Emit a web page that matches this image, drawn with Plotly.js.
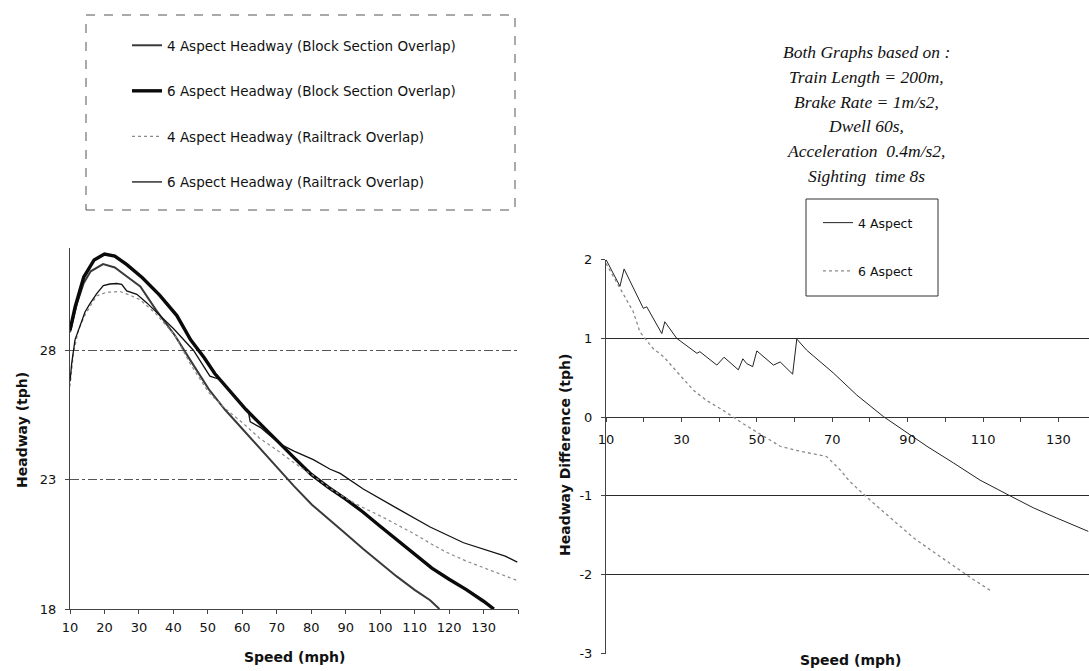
<!DOCTYPE html>
<html>
<head>
<meta charset="utf-8">
<script src="https://cdn.plot.ly/plotly-3.0.1.min.js"></script>
<style>html,body{margin:0;padding:0;background:#fff;}#chart{width:1089px;height:671px;}</style>
</head>
<body>
<div id="chart"></div>
<script>
// ---------- Left chart: Headway (tph) vs Speed (mph) ----------
const aspect6BlockX = [10, 11.5, 14, 17, 20, 23, 26.5, 31, 36, 41, 45, 49, 52, 56, 61, 66, 71, 75, 80, 85, 90, 95, 100, 105, 110, 115, 120, 125, 130, 133];
const aspect6BlockY = [28.78, 29.68, 30.83, 31.49, 31.72, 31.64, 31.31, 30.8, 30.13, 29.34, 28.4, 27.7, 27.1, 26.5, 25.72, 25.05, 24.37, 23.85, 23.2, 22.7, 22.25, 21.75, 21.2, 20.65, 20.1, 19.58, 19.15, 18.75, 18.3, 18.0];

const aspect4BlockX = [10, 12, 14, 16, 19.6, 23, 26.5, 30.4, 35, 40.4, 45, 50.3, 55, 60.3, 65, 70.3, 75, 80.2, 85.5, 90.1, 95.1, 100, 104.8, 110, 114.5, 117.2];
const aspect4BlockY = [28.7, 29.8, 30.6, 31.05, 31.33, 31.2, 30.85, 30.47, 29.55, 28.58, 27.6, 26.49, 25.7, 24.92, 24.2, 23.45, 22.75, 22.03, 21.44, 20.9, 20.32, 19.79, 19.26, 18.74, 18.34, 18.0];

const aspect4RailX = [10, 11, 12.5, 14.5, 17.7, 20.6, 24.5, 27, 30.4, 35, 40.4, 45, 50.3, 55, 60.3, 65, 70.3, 75, 80.2, 85, 90.1, 95, 100, 105, 109.7, 115, 119.3, 125, 129, 134, 139.8];
const aspect4RailY = [26.6, 27.9, 28.8, 29.4, 30.1, 30.24, 30.27, 30.15, 29.95, 29.4, 28.58, 27.45, 26.36, 25.75, 25.17, 24.6, 24.12, 23.65, 23.19, 22.7, 22.27, 21.92, 21.6, 21.25, 20.92, 20.5, 20.19, 19.85, 19.65, 19.4, 19.1];

const aspect6RailX = [10, 10.5, 11.45, 12.9, 14.35, 15.8, 17.75, 19.67, 21.6, 23.55, 25, 26.46, 29.4, 32.3, 36.1, 40, 45.8, 50.6, 53.5, 57, 60.3, 61.8, 62.3, 65.2, 71, 75, 80.6, 85.5, 88.4, 95.1, 104.8, 114.5, 124.2, 130, 136.3, 139.8];
const aspect6RailY = [26.79, 27.5, 28.4, 28.9, 29.48, 29.8, 30.19, 30.5, 30.56, 30.58, 30.55, 30.29, 30.16, 29.83, 29.36, 28.84, 28.0, 27.0, 26.87, 26.35, 25.85, 25.6, 25.23, 25.02, 24.37, 24.1, 23.77, 23.4, 23.24, 22.64, 21.9, 21.17, 20.56, 20.3, 20.04, 19.81];

const leftXTickVals = [10, 20, 30, 40, 50, 60, 70, 80, 90, 100, 110, 120, 130, 140];
const leftXTickText = ['10', '20', '30', '40', '50', '60', '70', '80', '90', '100', '110', '120', '130', ''];
const leftYTickVals = [18, 23, 28];

// ---------- Right chart: Headway Difference (tph) vs Speed (mph) ----------
const diff4X = [10, 13.7, 14.8, 17.2, 19.9, 20.8, 24.8, 25.6, 28.75, 34.1, 34.9, 39.4, 41.3, 45.1, 46.3, 47.3, 48.9, 50, 54.4, 56.2, 59.5, 60.6, 63.2, 70.3, 76.5, 83.6, 89.8, 95.1, 102.1, 109.2, 117.2, 123.3, 129.5, 137.9];
const diff4Y = [2.0, 1.66, 1.88, 1.64, 1.38, 1.40, 1.06, 1.21, 1.0, 0.81, 0.83, 0.66, 0.76, 0.60, 0.74, 0.68, 0.64, 0.84, 0.66, 0.70, 0.545, 0.99, 0.85, 0.56, 0.28, 0.006, -0.20, -0.37, -0.58, -0.80, -1.0, -1.15, -1.28, -1.45];

const diff6X = [10, 13.5, 17.2, 19, 22.5, 25.2, 33.2, 36.7, 41.1, 46.4, 56.2, 60.2, 68.5, 72.1, 74.7, 80.9, 91.5, 95.9, 102.1, 107.4, 112.3];
const diff6Y = [1.95, 1.65, 1.34, 1.08, 0.87, 0.77, 0.34, 0.21, 0.085, -0.085, -0.37, -0.42, -0.50, -0.67, -0.82, -1.09, -1.53, -1.68, -1.89, -2.06, -2.21];

const rightXTickVals = [10, 20, 30, 40, 50, 60, 70, 80, 90, 100, 110, 120, 130];
const rightXTickText = ['10', '', '30', '', '50', '', '70', '', '90', '', '110', '', '130'];
const rightYTickVals = [-3, -2, -1, 0, 1, 2];
const rightYTickText = ['-3', '-2', '-1', '0', '1', '2'];
const rightGridVals = [-2, -1, 1];

const noteLines = ['Both Graphs based on :', 'Train Length = 200m,', 'Brake Rate = 1m/s2,', 'Dwell 60s,', 'Acceleration  0.4m/s2,', 'Sighting  time 8s'];

// ---------- layout constants ----------
const W = 1089, H = 671;
const px = v => v / W;
const py = v => 1 - v / H;

const sans = 'DejaVu Sans, Arial, sans-serif';
const tickFont = {family: sans, size: 13, color: '#111'};
const legFont = {family: sans, size: 13.5, color: '#111'};

const traces = [
  {x: aspect4BlockX, y: aspect4BlockY, name: '4 Aspect Headway (Block Section Overlap)', mode: 'lines',
   line: {color: '#3a3a3a', width: 2}, xaxis: 'x', yaxis: 'y', legend: 'legend', legendgroup: 'a'},
  {x: aspect6BlockX, y: aspect6BlockY, name: '6 Aspect Headway (Block Section Overlap)', mode: 'lines',
   line: {color: '#0a0a0a', width: 3.4}, xaxis: 'x', yaxis: 'y', legend: 'legend', legendgroup: 'b'},
  {x: aspect4RailX, y: aspect4RailY, name: '4 Aspect Headway (Railtrack Overlap)', mode: 'lines',
   line: {color: '#8a8a8a', width: 1.2, dash: 'dot'}, xaxis: 'x', yaxis: 'y', legend: 'legend', legendgroup: 'c'},
  {x: aspect6RailX, y: aspect6RailY, name: '6 Aspect Headway (Railtrack Overlap)', mode: 'lines',
   line: {color: '#111', width: 1.3}, xaxis: 'x', yaxis: 'y', legend: 'legend', legendgroup: 'd'},
  {x: diff4X, y: diff4Y, name: '4 Aspect', mode: 'lines',
   line: {color: '#222', width: 1}, xaxis: 'x2', yaxis: 'y2', legend: 'legend2', legendgroup: 'e'},
  {x: diff6X, y: diff6Y, name: '6 Aspect', mode: 'lines',
   line: {color: '#8a8a8a', width: 1.3, dash: 'dot'}, xaxis: 'x2', yaxis: 'y2', legend: 'legend2', legendgroup: 'f'},
  // empty trace that registers the speed axis drawn along the zero line
  {x: [], y: [], mode: 'lines', xaxis: 'x3', yaxis: 'y2', showlegend: false, hoverinfo: 'skip'}
];

const rDomY = [py(653.5), py(259.5)];
const rRange = [-3, 2];
const zeroPos = rDomY[0] + (0 - rRange[0]) / (rRange[1] - rRange[0]) * (rDomY[1] - rDomY[0]);

const annotations = noteLines.map((t, i) => ({
  text: t, xref: 'paper', yref: 'paper', x: px(866), y: py(52 + i * 24.8),
  xanchor: 'center', yanchor: 'middle', showarrow: false,
  font: {family: 'Liberation Serif, Times New Roman, serif', size: 17.5, style: 'italic', color: '#111'}
}));
const titleFont = {family: sans, size: 14, weight: 'bold', color: '#111'};
annotations.push(
  {text: 'Headway (tph)', xref: 'paper', yref: 'paper', x: px(22), y: py(430), textangle: -90,
   showarrow: false, xanchor: 'center', yanchor: 'middle', font: titleFont},
  {text: 'Speed (mph)', xref: 'paper', yref: 'paper', x: px(294), y: py(657),
   showarrow: false, xanchor: 'center', yanchor: 'middle', font: titleFont},
  {text: 'Headway Difference (tph)', xref: 'paper', yref: 'paper', x: px(565), y: py(455), textangle: -90,
   showarrow: false, xanchor: 'center', yanchor: 'middle', font: titleFont},
  {text: 'Speed (mph)', xref: 'paper', yref: 'paper', x: px(850), y: py(660),
   showarrow: false, xanchor: 'center', yanchor: 'middle', font: titleFont}
);

const layout = {
  width: W, height: H,
  margin: {l: 0, r: 0, t: 0, b: 0},
  paper_bgcolor: '#fff', plot_bgcolor: 'rgba(0,0,0,0)',
  showlegend: true,
  xaxis: {domain: [px(70), px(518)], range: [10, 140], anchor: 'y',
    tickmode: 'array', tickvals: leftXTickVals, ticktext: leftXTickText,
    ticks: 'outside', ticklen: 4, tickcolor: '#444', ticklabelstandoff: 2,
    showline: true, linecolor: '#444', linewidth: 1, showgrid: false, zeroline: false,
    tickfont: tickFont},
  yaxis: {domain: [py(609), py(248.3)], range: [18, 31.94], anchor: 'x',
    tickmode: 'array', tickvals: leftYTickVals,
    ticks: 'outside', ticklen: 4, tickcolor: '#444', ticklabelstandoff: 6,
    showline: true, linecolor: '#444', linewidth: 1,
    showgrid: true, gridcolor: '#555', gridwidth: 1, griddash: 'dashdot', zeroline: false,
    tickfont: tickFont},
  xaxis2: {domain: [px(606), 1], range: [10, 138.1], anchor: 'y2',
    showticklabels: false, ticks: '', showline: false, showgrid: false, zeroline: false},
  yaxis2: {domain: rDomY, range: rRange, anchor: 'x2',
    tickmode: 'array', tickvals: rightYTickVals, ticktext: rightYTickText,
    ticks: 'outside', ticklen: 4, tickcolor: '#444', ticklabelstandoff: 6,
    showline: true, linecolor: '#444', linewidth: 1,
    showgrid: false, zeroline: true, zerolinecolor: '#333', zerolinewidth: 1,
    minor: {tickmode: 'array', tickvals: rightGridVals, showgrid: true, gridcolor: '#2a2a2a', gridwidth: 1, ticks: ''},
    tickfont: tickFont},
  xaxis3: {domain: [px(606), 1], range: [10, 138.1], overlaying: 'x2', anchor: 'free', position: zeroPos,
    side: 'bottom', tickmode: 'array', tickvals: rightXTickVals, ticktext: rightXTickText,
    ticks: 'outside', ticklen: 4, tickcolor: '#444', ticklabelstandoff: 6,
    showline: false, showgrid: false, zeroline: false, tickfont: tickFont},
  legend: {x: px(127), y: py(30), xanchor: 'left', yanchor: 'top', bgcolor: 'rgba(0,0,0,0)',
    borderwidth: 0, font: legFont, tracegroupgap: 25, traceorder: 'grouped'},
  legend2: {x: px(818), y: py(208), xanchor: 'left', yanchor: 'top', bgcolor: 'rgba(0,0,0,0)',
    borderwidth: 0, font: {family: sans, size: 12.5, color: '#111'}, tracegroupgap: 29, traceorder: 'grouped'},
  shapes: [
    {type: 'rect', xref: 'paper', yref: 'paper', x0: px(86), x1: px(515), y0: py(210), y1: py(15),
     line: {color: '#555', width: 1, dash: 'dash'}, layer: 'below'},
    {type: 'rect', xref: 'paper', yref: 'paper', x0: px(806), x1: px(938), y0: py(296), y1: py(199),
     line: {color: '#333', width: 1}, fillcolor: '#fff', layer: 'below'}
  ],
  annotations: annotations
};

Plotly.newPlot('chart', traces, layout, {displayModeBar: false, staticPlot: true});
</script>
</body>
</html>
